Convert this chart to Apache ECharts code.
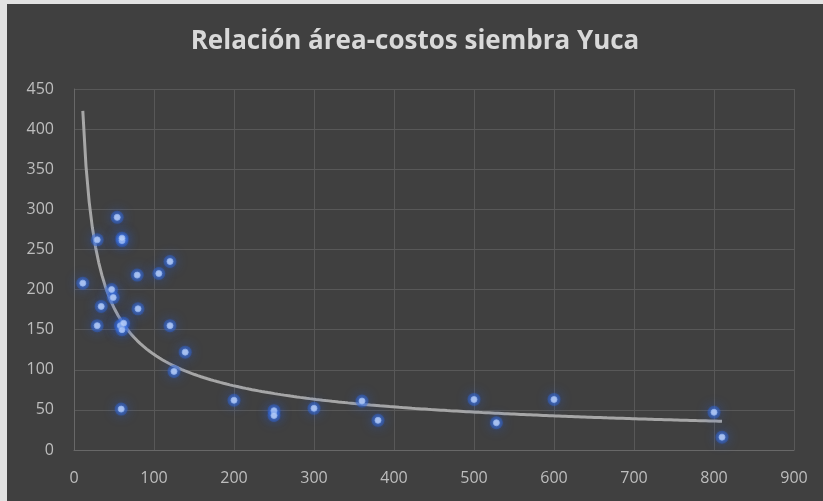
<!DOCTYPE html>
<html>
<head>
<meta charset="utf-8">
<script src="https://cdn.jsdelivr.net/npm/echarts@6/dist/echarts.min.js"></script>
<style>
html,body{margin:0;padding:0;background:#e2e2e2;width:823px;height:501px;overflow:hidden;}
#chart{position:absolute;left:7px;top:4px;width:816px;height:497px;background:#404040;}
</style>
</head>
<body>
<div id="chart"></div>
<script>
var titleText = 'Relación área-costos siembra Yuca';
var areaX = [11, 29, 29, 34, 47, 49, 54, 58, 60, 62, 60, 60, 59, 79, 80, 106, 120, 120, 125, 139, 200, 250, 250, 300, 360, 380, 500, 528, 600, 800, 810];
var costY = [208, 262, 155, 179, 200, 190, 290, 155, 150, 158, 261, 264, 51, 218, 176, 220, 235, 155, 98, 122, 62, 49, 43, 52, 61, 37, 63, 34, 63, 47, 16];
var xTicks = [0, 100, 200, 300, 400, 500, 600, 700, 800, 900];
var yTicks = [0, 50, 100, 150, 200, 250, 300, 350, 400, 450];

var points = areaX.map(function (x, i) { return [x, costY[i]]; });

// Power trendline (least squares in log-log space), like a spreadsheet power trendline
var n = points.length, sx = 0, sy = 0, sxx = 0, sxy = 0;
points.forEach(function (p) {
  var lx = Math.log(p[0]), ly = Math.log(p[1]);
  sx += lx; sy += ly; sxx += lx * lx; sxy += lx * ly;
});
var b = (n * sxy - sx * sy) / (n * sxx - sx * sx);
var a = Math.exp((sy - b * sx) / n);
var xMin = Math.min.apply(null, areaX), xMax = Math.max.apply(null, areaX);
var trend = [];
for (var k = 0; k <= 200; k++) {
  var x = xMin + (xMax - xMin) * k / 200;
  trend.push([x, a * Math.pow(x, b)]);
}

var chart = echarts.init(document.getElementById('chart'));
chart.setOption({
  backgroundColor: '#404040',
  animation: false,
  title: {
    text: titleText,
    left: 'center',
    top: 20,
    textStyle: { color: '#d9d9d9', fontSize: 26, fontWeight: 'bold', fontFamily: 'Open Sans' }
  },
  grid: { left: 67, right: 29, top: 85, bottom: 51 },
  xAxis: {
    type: 'value', min: 0, max: 900, interval: 100,
    axisLine: { show: true, onZero: false, lineStyle: { color: '#686868', width: 1 } },
    axisTick: { show: false },
    axisLabel: { color: '#bdbdbd', fontSize: 16, margin: 20, fontFamily: 'Open Sans' },
    splitLine: { show: true, lineStyle: { color: '#585858', width: 1 } }
  },
  yAxis: {
    type: 'value', min: 0, max: 450, interval: 50,
    axisLine: { show: true, onZero: false, lineStyle: { color: '#686868', width: 1 } },
    axisTick: { show: false },
    axisLabel: { color: '#bdbdbd', fontSize: 16, margin: 20, fontFamily: 'Open Sans' },
    splitLine: { show: true, lineStyle: { color: '#585858', width: 1 } }
  },
  series: [
    {
      type: 'line',
      data: trend,
      showSymbol: false,
      smooth: false,
      lineStyle: { color: '#a6a6a6', width: 3 },
      z: 2
    },
    {
      type: 'scatter',
      data: points,
      symbolSize: 13,
      silent: true,
      itemStyle: {
        color: 'rgba(40,95,215,0.55)',
        shadowBlur: 12,
        shadowColor: 'rgba(40,95,225,1)'
      },
      z: 3
    },
    {
      type: 'scatter',
      data: points,
      symbolSize: 6,
      itemStyle: {
        color: '#d6e4fb',
        borderColor: '#8fb0ee',
        borderWidth: 1,
        shadowBlur: 4,
        shadowColor: 'rgba(90,140,240,1)'
      },
      z: 4
    }
  ]
});
</script>
</body>
</html>
